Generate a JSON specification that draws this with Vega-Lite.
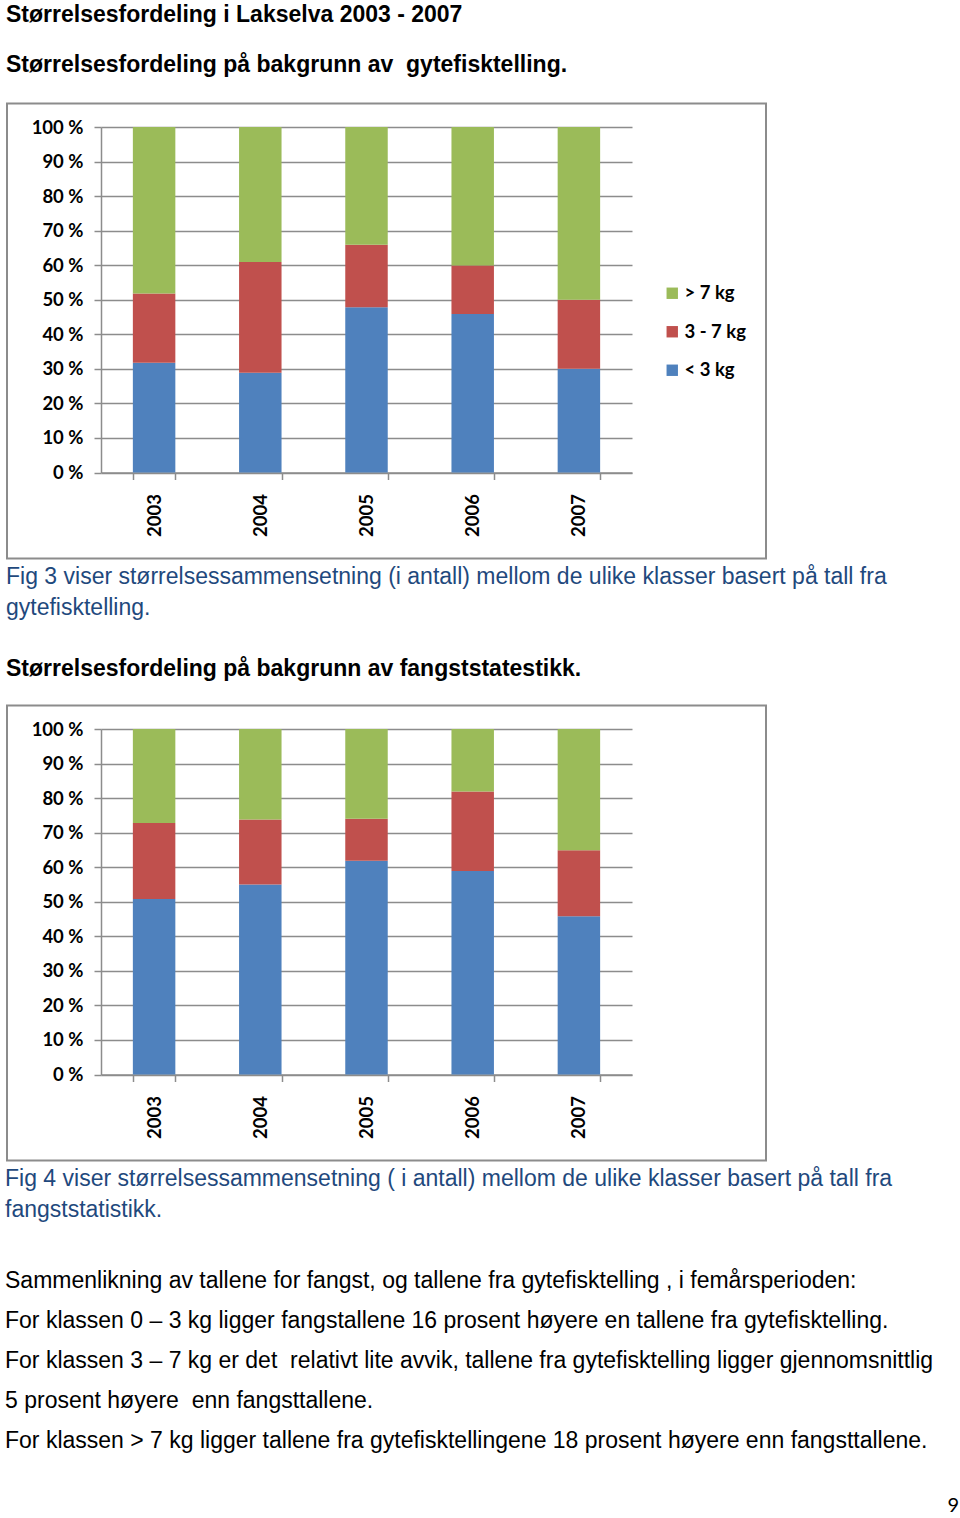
{
  "$schema": "https://vega.github.io/schema/vega-lite/v6.json",
  "background": "white",
  "padding": {"left": 5, "top": 4, "right": 0, "bottom": 0},
  "spacing": 6,
  "config": {
    "view": {"stroke": null},
    "font": "Liberation Sans"
  },
  "datasets": {
    "gyte": [
      {"year": "2003", "size": "< 3 kg", "k": 1, "pct": 31.8},
      {"year": "2003", "size": "3 - 7 kg", "k": 2, "pct": 20.0},
      {"year": "2003", "size": "> 7 kg", "k": 3, "pct": 48.2},
      {"year": "2004", "size": "< 3 kg", "k": 1, "pct": 28.9},
      {"year": "2004", "size": "3 - 7 kg", "k": 2, "pct": 32.0},
      {"year": "2004", "size": "> 7 kg", "k": 3, "pct": 39.1},
      {"year": "2005", "size": "< 3 kg", "k": 1, "pct": 47.8},
      {"year": "2005", "size": "3 - 7 kg", "k": 2, "pct": 18.1},
      {"year": "2005", "size": "> 7 kg", "k": 3, "pct": 34.1},
      {"year": "2006", "size": "< 3 kg", "k": 1, "pct": 45.9},
      {"year": "2006", "size": "3 - 7 kg", "k": 2, "pct": 14.0},
      {"year": "2006", "size": "> 7 kg", "k": 3, "pct": 40.1},
      {"year": "2007", "size": "< 3 kg", "k": 1, "pct": 30.0},
      {"year": "2007", "size": "3 - 7 kg", "k": 2, "pct": 20.0},
      {"year": "2007", "size": "> 7 kg", "k": 3, "pct": 50.0}
    ],
    "fangst": [
      {"year": "2003", "size": "< 3 kg", "k": 1, "pct": 50.8},
      {"year": "2003", "size": "3 - 7 kg", "k": 2, "pct": 22.0},
      {"year": "2003", "size": "> 7 kg", "k": 3, "pct": 27.2},
      {"year": "2004", "size": "< 3 kg", "k": 1, "pct": 55.0},
      {"year": "2004", "size": "3 - 7 kg", "k": 2, "pct": 18.8},
      {"year": "2004", "size": "> 7 kg", "k": 3, "pct": 26.2},
      {"year": "2005", "size": "< 3 kg", "k": 1, "pct": 61.9},
      {"year": "2005", "size": "3 - 7 kg", "k": 2, "pct": 12.1},
      {"year": "2005", "size": "> 7 kg", "k": 3, "pct": 26.0},
      {"year": "2006", "size": "< 3 kg", "k": 1, "pct": 58.9},
      {"year": "2006", "size": "3 - 7 kg", "k": 2, "pct": 23.0},
      {"year": "2006", "size": "> 7 kg", "k": 3, "pct": 18.1},
      {"year": "2007", "size": "< 3 kg", "k": 1, "pct": 45.8},
      {"year": "2007", "size": "3 - 7 kg", "k": 2, "pct": 19.1},
      {"year": "2007", "size": "> 7 kg", "k": 3, "pct": 35.1}
    ],
    "frame": [{"a": 0, "b": 1}],
    "page": [{"label": "9", "a": 1, "b": 0}]
  },
  "vconcat": [
    {
      "title": {
        "text": "Størrelsesfordeling i Lakselva 2003 - 2007",
        "subtitle": "Størrelsesfordeling på bakgrunn av\u00a0 gytefisktelling.",
        "anchor": "start", "frame": "bounds",
        "font": "Liberation Sans", "fontSize": 23, "fontWeight": "bold", "color": "black",
        "subtitleFont": "Liberation Sans", "subtitleFontSize": 23, "subtitleFontWeight": "bold", "subtitleColor": "black",
        "subtitlePadding": 27, "offset": 25
      },
      "width": 531,
      "height": 345.5,
      "layer": [
        {
          "data": {"name": "frame"},
          "mark": {"type": "rect", "fill": "transparent", "stroke": "#8c8c8c", "strokeWidth": 2, "clip": false},
          "encoding": {
            "x": {"field": "a", "type": "quantitative", "scale": {"domain": [0.12385, 0.82345], "nice": false, "zero": false}, "axis": null},
            "x2": {"field": "b"},
            "y": {"field": "a", "type": "quantitative", "scale": {"domain": [0.18901, 0.94835], "nice": false, "zero": false}, "axis": null},
            "y2": {"field": "b"}
          }
        },
        {
          "data": {"name": "gyte"},
          "mark": {"type": "bar"},
          "encoding": {
            "x": {"field": "year", "type": "nominal", "scale": {"paddingInner": 0.6, "paddingOuter": 0.3},
              "axis": {"title": null, "labelAngle": -90, "tickBand": "extent", "grid": false, "domainColor": "#8c8c8c", "domainWidth": 1.5, "tickColor": "#8c8c8c", "tickWidth": 1.5, "tickSize": 7, "labelFont": "Lato", "labelFontWeight": "bold", "labelFontSize": 18.5, "labelColor": "black", "labelPadding": 14}},
            "y": {"field": "pct", "type": "quantitative", "stack": "zero", "scale": {"domain": [0, 100], "nice": false},
              "axis": {"title": null, "values": [0, 10, 20, 30, 40, 50, 60, 70, 80, 90, 100], "labelExpr": "datum.value + ' %'", "grid": true, "gridColor": "#8c8c8c", "gridWidth": 1.5, "domainColor": "#8c8c8c", "domainWidth": 1.5, "tickColor": "#8c8c8c", "tickWidth": 1.5, "tickSize": 7, "labelFont": "Lato", "labelFontWeight": "bold", "labelFontSize": 18.5, "labelColor": "black", "labelPadding": 11}},
            "color": {"field": "size", "type": "nominal", "scale": {"domain": ["> 7 kg", "3 - 7 kg", "< 3 kg"], "range": ["#9BBB59", "#C0504D", "#4F81BD"]},
              "legend": {"title": null, "orient": "none", "legendX": 562, "legendY": 157, "symbolType": "square", "symbolSize": 130, "symbolStrokeWidth": 0, "labelFont": "Lato", "labelFontWeight": "bold", "labelFontSize": 18.5, "labelColor": "black", "rowPadding": 19.5, "labelOffset": 3}},
            "order": {"field": "k", "type": "quantitative"}
          }
        }
      ],
      "resolve": {"scale": {"x": "independent", "y": "independent"}}
    },
    {
      "title": {
        "text": ["Fig 3 viser størrelsessammensetning (i antall) mellom de ulike klasser basert på tall fra", "gytefisktelling."],
        "subtitle": "Størrelsesfordeling på bakgrunn av fangststatestikk.",
        "anchor": "start", "frame": "bounds",
        "font": "Liberation Sans", "fontSize": 23, "fontWeight": "normal", "color": "#1F497D", "lineHeight": 31,
        "subtitleFont": "Liberation Sans", "subtitleFontSize": 23, "subtitleFontWeight": "bold", "subtitleColor": "black",
        "subtitlePadding": 38, "offset": 23
      },
      "width": 531,
      "height": 345.5,
      "layer": [
        {
          "data": {"name": "frame"},
          "mark": {"type": "rect", "fill": "transparent", "stroke": "#8c8c8c", "strokeWidth": 2, "clip": false},
          "encoding": {
            "x": {"field": "a", "type": "quantitative", "scale": {"domain": [0.12385, 0.82345], "nice": false, "zero": false}, "axis": null},
            "x2": {"field": "b"},
            "y": {"field": "a", "type": "quantitative", "scale": {"domain": [0.18901, 0.94835], "nice": false, "zero": false}, "axis": null},
            "y2": {"field": "b"}
          }
        },
        {
          "data": {"name": "fangst"},
          "mark": {"type": "bar"},
          "encoding": {
            "x": {"field": "year", "type": "nominal", "scale": {"paddingInner": 0.6, "paddingOuter": 0.3},
              "axis": {"title": null, "labelAngle": -90, "tickBand": "extent", "grid": false, "domainColor": "#8c8c8c", "domainWidth": 1.5, "tickColor": "#8c8c8c", "tickWidth": 1.5, "tickSize": 7, "labelFont": "Lato", "labelFontWeight": "bold", "labelFontSize": 18.5, "labelColor": "black", "labelPadding": 14}},
            "y": {"field": "pct", "type": "quantitative", "stack": "zero", "scale": {"domain": [0, 100], "nice": false},
              "axis": {"title": null, "values": [0, 10, 20, 30, 40, 50, 60, 70, 80, 90, 100], "labelExpr": "datum.value + ' %'", "grid": true, "gridColor": "#8c8c8c", "gridWidth": 1.5, "domainColor": "#8c8c8c", "domainWidth": 1.5, "tickColor": "#8c8c8c", "tickWidth": 1.5, "tickSize": 7, "labelFont": "Lato", "labelFontWeight": "bold", "labelFontSize": 18.5, "labelColor": "black", "labelPadding": 11}},
            "color": {"field": "size", "type": "nominal", "scale": {"domain": ["> 7 kg", "3 - 7 kg", "< 3 kg"], "range": ["#9BBB59", "#C0504D", "#4F81BD"]},
              "legend": {"title": null, "orient": "none", "legendX": 562, "legendY": 157, "symbolType": "square", "symbolSize": 130, "symbolStrokeWidth": 0, "labelFont": "Lato", "labelFontWeight": "bold", "labelFontSize": 18.5, "labelColor": "black", "rowPadding": 19.5, "labelOffset": 3}},
            "order": {"field": "k", "type": "quantitative"}
          }
        }
      ],
      "resolve": {"scale": {"x": "independent", "y": "independent"}}
    },
    {
      "title": {
        "text": ["Fig 4 viser størrelsessammensetning ( i antall) mellom de ulike klasser basert på tall fra", "fangststatistikk."],
        "subtitle": [
          "Sammenlikning av tallene for fangst, og tallene fra gytefisktelling , i femårsperioden:",
          "For klassen 0 – 3 kg ligger fangstallene 16 prosent høyere en tallene fra gytefisktelling.",
          "For klassen 3 – 7 kg er det\u00a0 relativt lite avvik, tallene fra gytefisktelling ligger gjennomsnittlig",
          "5 prosent høyere\u00a0 enn fangsttallene.",
          "For klassen > 7 kg ligger tallene fra gytefisktellingene 18 prosent høyere enn fangsttallene."
        ],
        "anchor": "start", "frame": "group", "dx": -96, "dy": 3,
        "font": "Liberation Sans", "fontSize": 23, "fontWeight": "normal", "color": "#1F497D", "lineHeight": 31,
        "subtitleFont": "Liberation Sans", "subtitleFontSize": 23, "subtitleFontWeight": "normal", "subtitleColor": "black", "subtitleLineHeight": 40,
        "subtitlePadding": 48, "offset": 10
      },
      "width": 858,
      "height": 52,
      "data": {"name": "page"},
      "mark": {"type": "text", "align": "right", "baseline": "alphabetic", "font": "Lato", "fontSize": 20, "color": "black"},
      "encoding": {
        "x": {"field": "a", "type": "quantitative", "scale": {"domain": [0, 1]}, "axis": null},
        "y": {"field": "b", "type": "quantitative", "scale": {"domain": [0, 1]}, "axis": null},
        "text": {"field": "label"}
      }
    }
  ]
}
